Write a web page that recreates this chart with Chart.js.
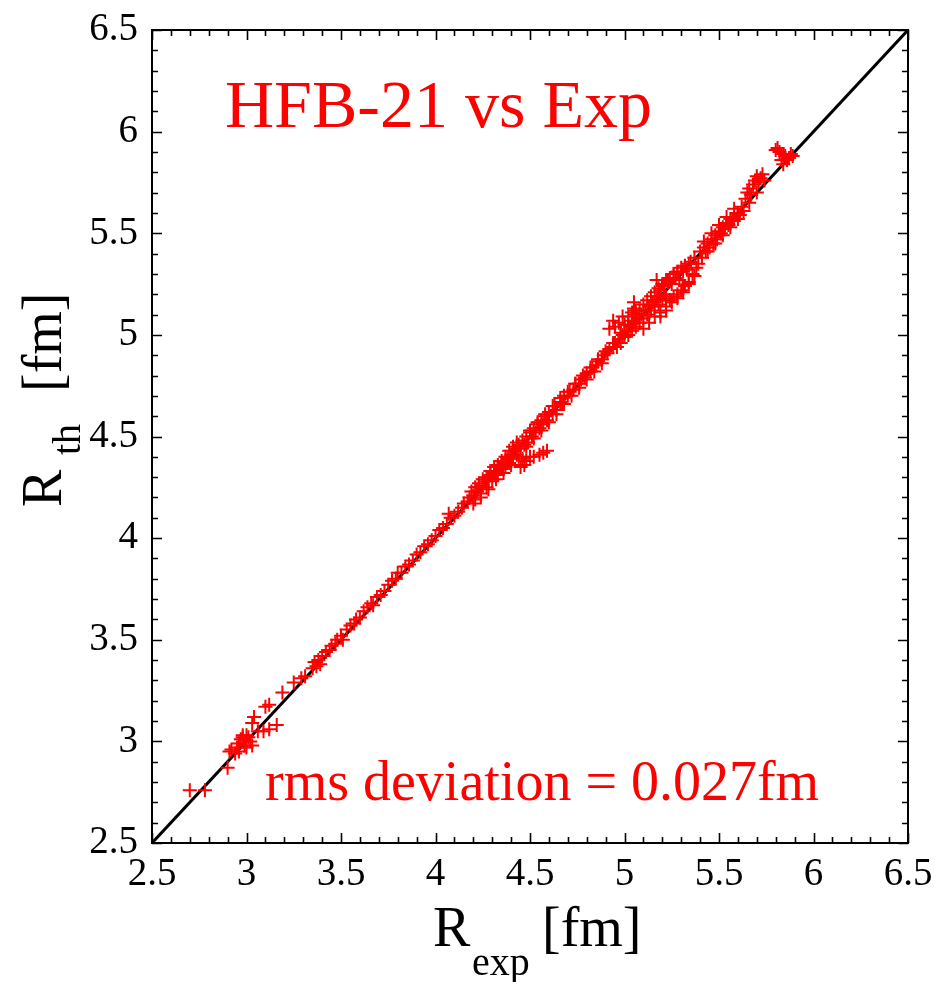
<!DOCTYPE html>
<html>
<head>
<meta charset="utf-8">
<script src="https://cdn.jsdelivr.net/npm/chart.js@4.4.1/dist/chart.umd.min.js"></script>
<style>
  html, body { margin: 0; padding: 0; background: #ffffff; }
  #wrap { width: 935px; height: 982px; position: relative; }
</style>
</head>
<body>
<div id="wrap"><canvas id="c" width="935" height="982"></canvas></div>
<script>
// ---- data ----
const chartTitle = "HFB-21 vs Exp";
const rmsLabel = "rms deviation = 0.027fm";
const tickValues = [2.5, 3, 3.5, 4, 4.5, 5, 5.5, 6, 6.5];
const tickLabels = ["2.5", "3", "3.5", "4", "4.5", "5", "5.5", "6", "6.5"];

// light nuclei
const rExpA = [2.70,2.78,2.90,2.91,2.92,2.94,2.95,2.96,2.97,2.98,2.99,3.00,3.00,3.01,2.98,3.02,3.03,2.96,3.03,3.04,3.06,3.09,3.12,3.16,3.10,3.12,3.19,3.25,3.29,3.31];
const rThA  = [2.76,2.76,2.87,2.95,2.96,2.94,2.97,2.99,3.01,3.02,2.98,3.03,2.97,3.02,3.03,3.00,2.98,2.95,3.09,3.12,3.05,3.05,3.06,3.08,3.17,3.18,3.24,3.29,3.31,3.32];

// 3.35 - 4.33
const rExpB = [3.35,3.36,3.37,3.38,3.39,3.40,3.42,3.44,3.45,3.47,3.48,3.50,3.51,3.53,3.55,3.57,3.58,3.60,3.62,3.64,3.66,3.67,3.69,3.71,3.73,3.75,3.77,3.79,3.80,3.82,3.84,3.86,3.88,3.90,3.92,3.94,3.96,3.98,4.00,4.02,4.04,4.07,4.06,4.08,4.10,4.12,4.14,4.15,4.17,4.18,4.20,4.21,4.22,4.23,4.24,4.25,4.26,4.27,4.28,4.29,4.30,4.31,4.32];
const rThB  = [3.36,3.39,3.37,3.40,3.38,3.42,3.44,3.45,3.47,3.48,3.50,3.52,3.50,3.55,3.57,3.58,3.60,3.61,3.64,3.66,3.68,3.67,3.71,3.72,3.74,3.77,3.79,3.80,3.83,3.83,3.86,3.87,3.89,3.92,3.93,3.96,3.97,3.99,4.01,4.04,4.05,4.12,4.07,4.10,4.11,4.13,4.15,4.17,4.18,4.20,4.21,4.19,4.23,4.25,4.22,4.26,4.28,4.25,4.29,4.31,4.28,4.32,4.33];

// 4.33 - 4.95
const rExpC = [4.33,4.34,4.35,4.36,4.37,4.38,4.39,4.40,4.41,4.42,4.43,4.44,4.45,4.46,4.47,4.48,4.49,4.50,4.51,4.52,4.53,4.54,4.55,4.56,4.57,4.58,4.59,4.60,4.62,4.63,4.64,4.66,4.67,4.68,4.70,4.71,4.73,4.74,4.76,4.77,4.79,4.80,4.82,4.83,4.85,4.86,4.88,4.89,4.91,4.92,4.94,
               4.45,4.46,4.48,4.50,4.52,4.55,4.57,4.59,4.47];
const rThC  = [4.31,4.35,4.34,4.37,4.35,4.39,4.37,4.41,4.39,4.43,4.41,4.46,4.44,4.48,4.46,4.50,4.47,4.52,4.50,4.54,4.52,4.56,4.54,4.58,4.56,4.60,4.58,4.62,4.61,4.65,4.63,4.67,4.66,4.70,4.70,4.72,4.73,4.76,4.76,4.78,4.79,4.81,4.82,4.84,4.85,4.87,4.88,4.90,4.91,4.93,4.94,
               4.35,4.39,4.38,4.40,4.40,4.41,4.42,4.43,4.36];

// extra points in the dense 4.2 - 4.9 band
const rExpC2 = [4.19,4.21,4.23,4.25,4.27,4.29,4.31,4.33,4.35,4.37,4.39,4.41,4.43,4.20,4.24,4.28,4.32,4.36,4.40,4.44,4.48,4.52,4.56,4.60,4.64,4.68,4.72,4.76,4.80,4.84,4.88];
const rThC2  = [4.23,4.25,4.27,4.29,4.30,4.33,4.35,4.36,4.38,4.40,4.43,4.45,4.47,4.17,4.20,4.24,4.29,4.32,4.36,4.40,4.45,4.49,4.53,4.57,4.61,4.66,4.70,4.74,4.78,4.82,4.86];
const rExpC3 = [4.50,4.54,4.58,4.62,4.66,4.70,4.74,4.78,4.82,4.86,4.90,4.94,4.98];
const rThC3  = [4.53,4.57,4.61,4.65,4.69,4.72,4.76,4.80,4.84,4.88,4.92,4.96,5.01];

// 4.9 - 5.25
const rExpD = [4.95,4.96,4.97,4.98,4.99,5.00,5.01,5.02,5.03,5.04,5.05,5.06,5.07,5.08,5.09,5.10,5.11,5.12,5.13,5.14,5.15,5.16,5.17,5.18,5.19,5.20,5.21,5.22,
               4.92,4.95,4.97,4.99,5.02,5.04,5.05,5.05,5.00,5.06,4.94];
const rThD  = [4.96,4.94,4.98,4.96,5.00,4.99,5.02,5.00,5.04,5.02,5.06,5.04,5.08,5.06,5.10,5.08,5.12,5.10,5.14,5.12,5.16,5.14,5.17,5.15,5.19,5.17,5.20,5.18,
               5.03,5.04,5.06,5.09,5.09,5.11,5.13,5.16,5.05,5.12,5.07];

// extra points in the wide 5.0 - 5.4 band
const rExpG = [5.02,5.04,5.06,5.08,5.10,5.12,5.14,5.16,5.18,5.20,5.22,5.24,5.26,5.28,5.30,5.32,5.34,5.10,5.13,5.16,5.19,5.22,5.25,5.28,5.31,5.34,5.37,5.39];
const rThG  = [5.05,5.07,5.10,5.12,5.15,5.17,5.19,5.21,5.23,5.25,5.27,5.28,5.30,5.31,5.33,5.34,5.35,5.03,5.06,5.09,5.11,5.14,5.16,5.18,5.21,5.25,5.29,5.35];

// 5.17 - 5.63
const rExpE = [5.24,5.26,5.28,5.30,5.32,5.34,5.36,5.38,5.25,5.27,5.29,5.31,5.33,5.35,5.37,5.23,5.21,5.19,5.26,5.28,5.17,5.19,5.22,
               5.40,5.41,5.42,5.43,5.44,5.45,5.46,5.47,5.48,5.49,5.50,5.51,5.52,5.53,5.54,5.55,5.56,5.57,5.58,5.60,5.61,5.62,5.63];
const rThE  = [5.17,5.19,5.20,5.22,5.24,5.26,5.30,5.33,5.25,5.28,5.27,5.31,5.32,5.36,5.38,5.26,5.24,5.22,5.30,5.31,5.27,5.09,5.12,
               5.41,5.38,5.43,5.41,5.45,5.43,5.47,5.45,5.49,5.47,5.51,5.50,5.53,5.52,5.55,5.54,5.57,5.56,5.58,5.60,5.59,5.63,5.61];

// extra points 5.4 - 5.6
const rExpH = [5.42,5.46,5.50,5.54,5.58,5.44,5.48,5.52,5.56,5.60];
const rThH  = [5.46,5.50,5.54,5.58,5.62,5.41,5.45,5.49,5.53,5.57];

// heavy nuclei
const rExpF = [5.64,5.65,5.66,5.67,5.68,5.69,5.70,5.71,5.72,5.73,5.66,5.70,5.74,5.80,5.81,5.82,5.83,5.84,5.85,5.86,5.88,5.89,5.84,5.87];
const rThF  = [5.67,5.70,5.72,5.69,5.74,5.76,5.78,5.75,5.77,5.79,5.65,5.70,5.76,5.91,5.92,5.90,5.86,5.84,5.88,5.86,5.89,5.88,5.89,5.87];

const rExp = [].concat(rExpA, rExpB, rExpC, rExpC2, rExpC3, rExpD, rExpG, rExpE, rExpH, rExpF);
const rTh  = [].concat(rThA, rThB, rThC, rThC2, rThC3, rThD, rThG, rThE, rThH, rThF);
const diagonal = [2.5, 6.5];

// ---- chart ----
const serif = "'Liberation Serif', 'DejaVu Serif', serif";
const points = rExp.map((v, i) => ({ x: v, y: rTh[i] }));
const linePts = diagonal.map(v => ({ x: v, y: v }));

function fixedTicks(s) { s.ticks = tickValues.map(v => ({ value: v })); }
function labelFor(v) { const i = tickValues.indexOf(v); return i >= 0 ? tickLabels[i] : ''; }

const framePlugin = {
  id: 'frame',
  afterDatasetsDraw(chart) {
    const { ctx, chartArea: a, scales: { x, y } } = chart;
    ctx.save();
    ctx.strokeStyle = '#000';
    ctx.lineWidth = 2;
    ctx.strokeRect(a.left, a.top, a.right - a.left, a.bottom - a.top);
    ctx.lineWidth = 1.6;
    ctx.beginPath();
    for (let k = 25; k <= 65; k++) {
      const v = k / 10;
      const major = (k % 5 === 0);
      const len = major ? 10 : 6;
      const px = Math.round(x.getPixelForValue(v)) + 0.5;
      const py = Math.round(y.getPixelForValue(v)) + 0.5;
      ctx.moveTo(px, a.bottom); ctx.lineTo(px, a.bottom - len);
      ctx.moveTo(px, a.top); ctx.lineTo(px, a.top + len);
      ctx.moveTo(a.left, py); ctx.lineTo(a.left + len, py);
      ctx.moveTo(a.right, py); ctx.lineTo(a.right - len, py);
    }
    ctx.stroke();
    ctx.restore();
  },
  afterDraw(chart) {
    const { ctx } = chart;
    ctx.save();
    ctx.fillStyle = '#ff0000';
    ctx.textBaseline = 'alphabetic';
    ctx.textAlign = 'left';
    ctx.font = `68px ${serif}`;
    ctx.fillText(chartTitle, 225, 127);
    ctx.font = `56px ${serif}`;
    ctx.fillText(rmsLabel, 265, 800);

    // x axis title: R_exp [fm]
    ctx.fillStyle = '#000';
    ctx.font = `56px ${serif}`;
    ctx.fillText('R', 433, 946);
    ctx.fillText('[fm]', 542, 946);
    ctx.font = `40px ${serif}`;
    ctx.fillText('exp', 472, 975);

    // y axis title: R_th [fm] (rotated)
    ctx.save();
    ctx.translate(61, 507);
    ctx.rotate(-Math.PI / 2);
    ctx.font = `56px ${serif}`;
    ctx.fillText('R', 0, 0);
    ctx.restore();
    ctx.save();
    ctx.translate(80, 455);
    ctx.rotate(-Math.PI / 2);
    ctx.font = `40px ${serif}`;
    ctx.fillText('th', 0, 0);
    ctx.restore();
    ctx.save();
    ctx.translate(61, 392);
    ctx.rotate(-Math.PI / 2);
    ctx.font = `56px ${serif}`;
    ctx.fillText('[fm]', 0, 0);
    ctx.restore();
    ctx.restore();
  }
};

function zeroPad(s) { s.paddingLeft = 0; s.paddingRight = 0; s.paddingTop = 0; s.paddingBottom = 0; }

new Chart(document.getElementById('c'), {
  type: 'scatter',
  data: {
    datasets: [
      {
        label: 'HFB-21',
        data: points,
        pointStyle: 'cross',
        pointRadius: 7,
        pointBorderWidth: 2,
        borderColor: '#ff0000',
        backgroundColor: '#ff0000',
        order: 0
      },
      {
        label: 'y = x',
        data: linePts,
        showLine: true,
        borderColor: '#000000',
        borderWidth: 3,
        pointRadius: 0,
        order: 1
      }
    ]
  },
  options: {
    responsive: false,
    animation: false,
    events: [],
    layout: { padding: { top: 30, right: 27, left: 0, bottom: 0 } },
    plugins: { legend: { display: false }, tooltip: { enabled: false } },
    scales: {
      x: {
        type: 'linear', min: 2.5, max: 6.5,
        afterBuildTicks: fixedTicks,
        afterFit: s => { s.height = 139; zeroPad(s); },
        grid: { display: false, drawTicks: false },
        border: { display: false },
        ticks: { color: '#000', padding: 8, maxRotation: 0, autoSkip: false,
                 callback: v => labelFor(v),
                 font: { family: serif, size: 39 } }
      },
      y: {
        type: 'linear', min: 2.5, max: 6.5,
        afterBuildTicks: fixedTicks,
        afterFit: s => { s.width = 152; zeroPad(s); },
        grid: { display: false, drawTicks: false },
        border: { display: false },
        ticks: { color: '#000', padding: 14, autoSkip: false,
                 callback: v => labelFor(v),
                 font: { family: serif, size: 39 } }
      }
    }
  },
  plugins: [framePlugin]
});
</script>
</body>
</html>
